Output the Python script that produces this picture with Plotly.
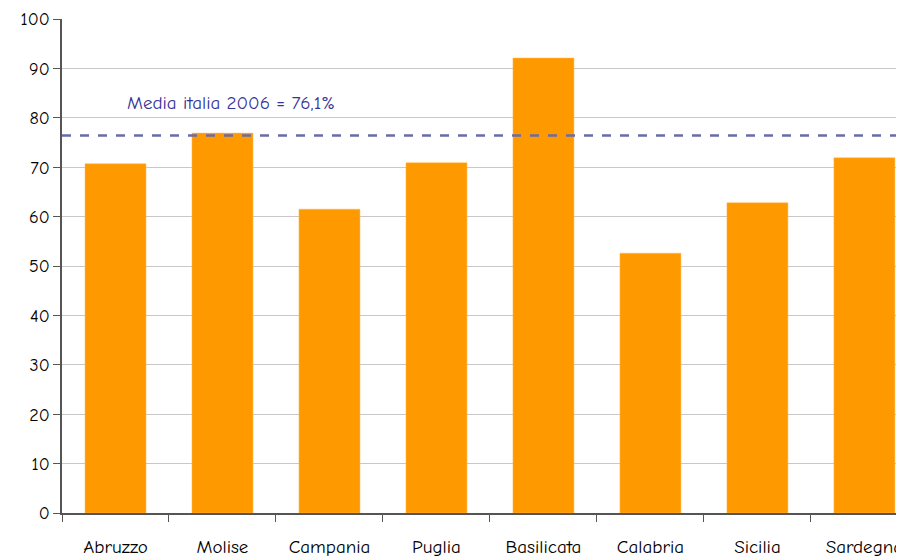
import plotly.graph_objects as go

regions = ["Abruzzo", "Molise", "Campania", "Puglia", "Basilicata",
           "Calabria", "Sicilia", "Sardegna"]
values = [70.7, 76.9, 61.5, 70.9, 92.1, 52.6, 62.8, 71.9]
media_italia = 76.4
media_label = "Media italia 2006 = 76,1%"
y_ticks = [0, 10, 20, 30, 40, 50, 60, 70, 80, 90, 100]

font_family = "Comic Sans MS, Comic Neue, Noto Sans, sans-serif"

bars = go.Bar(
    x=regions,
    y=values,
    width=0.57,
    marker=dict(color="#ff9900", line=dict(color="#ffb84d", width=0.5)),
    hoverinfo="x+y",
)

media = go.Scatter(
    x=[-0.5, 7.5],
    y=[media_italia, media_italia],
    mode="lines",
    line=dict(color="#6b6ba6", width=2.5, dash="dash"),
    xaxis="x2",
    hoverinfo="skip",
)

# the page body has an 8px margin, so the figure is shrunk by that much
layout = go.Layout(
    width=896,
    height=548,
    margin=dict(l=54, r=0, t=11, b=43),
    paper_bgcolor="white",
    plot_bgcolor="white",
    showlegend=False,
    font=dict(family=font_family, size=17, color="black"),
    xaxis=dict(
        range=[-0.5, 7.37],
        automargin=False,
        showline=True,
        linecolor="#555555",
        linewidth=1.5,
        ticks="outside",
        tickson="boundaries",
        ticklen=7,
        tickcolor="#555555",
        ticklabelstandoff=15,
        showgrid=False,
        tickfont=dict(size=19),
    ),
    xaxis2=dict(
        range=[-0.5, 7.37],
        overlaying="x",
        visible=False,
    ),
    yaxis=dict(
        range=[0, 100],
        automargin=False,
        tickvals=y_ticks,
        showline=True,
        linecolor="#555555",
        linewidth=1.5,
        ticks="outside",
        ticklen=7,
        tickcolor="#555555",
        showgrid=True,
        gridcolor="#c8c8c8",
        gridwidth=1,
        zeroline=False,
        tickfont=dict(size=18),
    ),
    annotations=[
        dict(
            x=1.08, y=83, xref="x", yref="y",
            text=media_label,
            showarrow=False,
            font=dict(family=font_family, size=19, color="#333399"),
        )
    ],
)

fig = go.Figure(data=[bars, media], layout=layout)
fig.write_html("out.html")
